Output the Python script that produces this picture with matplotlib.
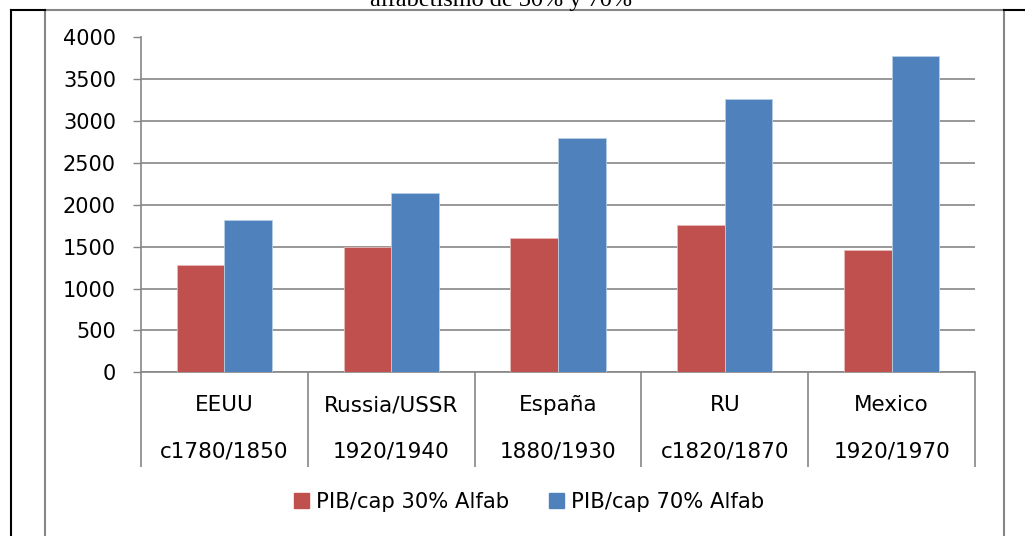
import matplotlib.pyplot as plt
import numpy as np
from matplotlib.lines import Line2D
from matplotlib.patches import Patch

plt.rcParams["font.family"] = ["DejaVu Sans"]

paises = ["EEUU", "Russia/USSR", "España", "RU", "Mexico"]
periodos = ["c1780/1850", "1920/1940", "1880/1930", "c1820/1870", "1920/1970"]
pib_30 = [1282, 1493, 1608, 1756, 1461]
pib_70 = [1816, 2142, 2799, 3261, 3778]
series = ["PIB/cap 30% Alfab", "PIB/cap 70% Alfab"]

rojo = "#C0504D"
azul = "#4F81BD"
gris = "#868686"

W, H = 1025, 536
fig = plt.figure(figsize=(W / 100, H / 100), dpi=100)
ax = fig.add_axes([141 / W, 1 - 372.3 / H, (975 - 141) / W, (372.3 - 37.5) / H])

x = np.arange(len(paises))
w = 0.2857
ax.bar(x - w / 2, pib_30, w, color=rojo, edgecolor="#e6b9b8", linewidth=0.6, zorder=3)
ax.bar(x + w / 2, pib_70, w, color=azul, edgecolor="#b9cde5", linewidth=0.6, zorder=3)

ax.set_xlim(-0.5, len(paises) - 0.5)
ax.set_ylim(0, 4000)
ax.set_yticks(np.arange(0, 4001, 500))
ax.tick_params(axis="y", length=6, width=1, color=gris, labelsize=15, pad=12)
ax.yaxis.grid(True, color=gris, linewidth=1.2, zorder=0)
ax.set_axisbelow(True)

# separadores de la tabla de categorias, como ticks largos
ax.set_xticks(np.arange(-0.5, len(paises), 1.0))
ax.set_xticklabels([])
ax.tick_params(axis="x", length=68.5, width=1.2, color=gris)

for s in ["top", "right"]:
    ax.spines[s].set_visible(False)
ax.spines["left"].set_color(gris)
ax.spines["bottom"].set_color(gris)
ax.spines["left"].set_linewidth(1.2)
ax.spines["bottom"].set_linewidth(1.2)

tr = ax.get_xaxis_transform()
for i in range(len(paises)):
    ax.text(x[i], -0.098, paises[i], transform=tr, ha="center", va="center", fontsize=15.5)
    ax.text(x[i], -0.238, periodos[i], transform=tr, ha="center", va="center", fontsize=15.5)

handles = [Patch(color=rojo), Patch(color=azul)]
fig.legend(handles, series, loc="center", bbox_to_anchor=(529 / W, 1 - 502 / H), ncol=2,
           frameon=False, fontsize=15.2, handlelength=0.72, handleheight=0.72,
           handletextpad=0.3, columnspacing=1.9)

# marco del grafico y de la pagina
def linea(x0, y0, x1, y1, color, lw):
    fig.add_artist(Line2D([x0 / W, x1 / W], [1 - y0 / H, 1 - y1 / H], color=color, linewidth=lw))

linea(45, 10, 1004, 10, gris, 1.5)
linea(45, 10, 45, 540, gris, 1.5)
linea(1004, 10, 1004, 540, gris, 1.5)
linea(11, 10, 11, 540, "black", 1.5)
linea(11, 10, 45, 10, "black", 1.5)
linea(1004, 10, 1030, 10, "black", 1.5)

fig.text(501 / W, 1 - 6 / H, "alfabetismo de 30% y 70%", ha="center", va="baseline",
         fontsize=17.5, family="Liberation Serif")

fig.savefig("out.png", dpi=100)
